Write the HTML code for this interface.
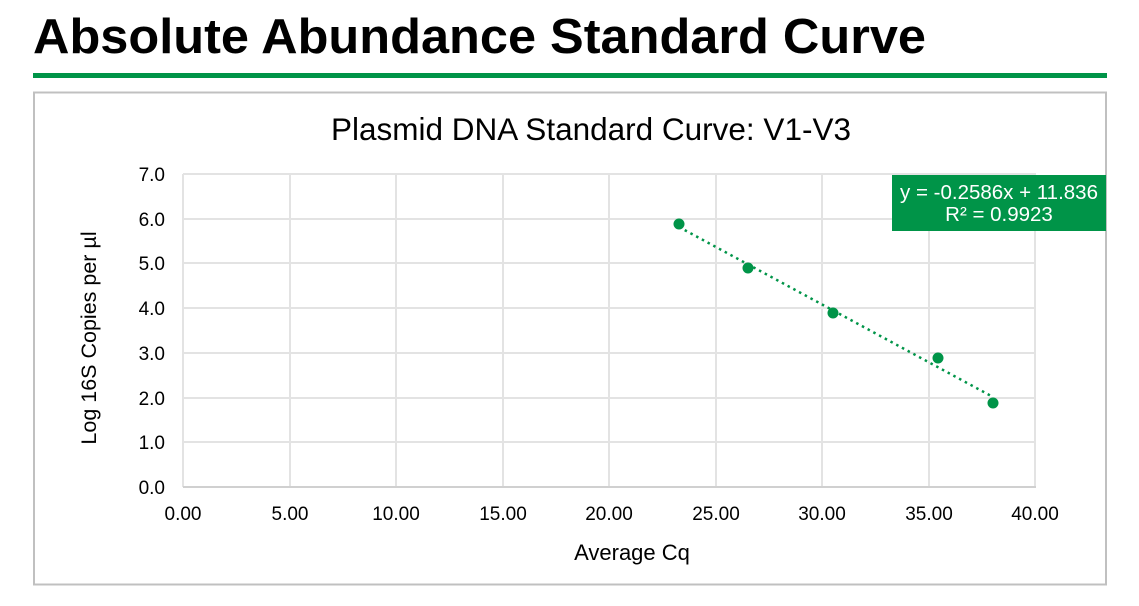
<!DOCTYPE html>
<html><head><style>
html,body{margin:0;padding:0;background:#fff;}
svg{display:block;}
text{font-family:"Liberation Sans",Arial,sans-serif;}
</style></head><body>
<svg width="1139" height="606" viewBox="0 0 1139 606">
<text x="33" y="53" font-size="49" font-weight="bold" fill="#000" textLength="893" lengthAdjust="spacingAndGlyphs">Absolute Abundance Standard Curve</text>
<rect x="33" y="73" width="1074" height="5" fill="#009448"/>
<rect x="34" y="92.5" width="1072" height="492" fill="#fff" stroke="#c0c0c0" stroke-width="2"/>
<text x="591" y="140" font-size="31.5" text-anchor="middle" fill="#000">Plasmid DNA Standard Curve: V1-V3</text>
<g stroke="#e3e3e3" stroke-width="2">
<line x1="183" y1="174" x2="1036" y2="174"/>
<line x1="183" y1="219" x2="1036" y2="219"/>
<line x1="183" y1="263" x2="1036" y2="263"/>
<line x1="183" y1="308" x2="1036" y2="308"/>
<line x1="183" y1="353" x2="1036" y2="353"/>
<line x1="183" y1="398" x2="1036" y2="398"/>
<line x1="183" y1="442" x2="1036" y2="442"/>
<line x1="183" y1="174" x2="183" y2="487"/>
<line x1="290" y1="174" x2="290" y2="487"/>
<line x1="396" y1="174" x2="396" y2="487"/>
<line x1="503" y1="174" x2="503" y2="487"/>
<line x1="609" y1="174" x2="609" y2="487"/>
<line x1="716" y1="174" x2="716" y2="487"/>
<line x1="822" y1="174" x2="822" y2="487"/>
<line x1="929" y1="174" x2="929" y2="487"/>
<line x1="1035" y1="174" x2="1035" y2="487"/>
</g>
<line x1="183" y1="487" x2="1036" y2="487" stroke="#d0d0d0" stroke-width="2"/>
<g font-size="19" fill="#000" text-anchor="end">
<text x="165" y="181">7.0</text><text x="165" y="226">6.0</text><text x="165" y="270">5.0</text>
<text x="165" y="315">4.0</text><text x="165" y="360">3.0</text><text x="165" y="405">2.0</text>
<text x="165" y="449">1.0</text><text x="165" y="494">0.0</text>
</g>
<g font-size="19" fill="#000" text-anchor="middle">
<text x="183" y="520">0.00</text><text x="290" y="520">5.00</text><text x="396" y="520">10.00</text>
<text x="503" y="520">15.00</text><text x="609" y="520">20.00</text><text x="716" y="520">25.00</text>
<text x="822" y="520">30.00</text><text x="929" y="520">35.00</text><text x="1035" y="520">40.00</text>
</g>
<text x="632" y="560" font-size="22" text-anchor="middle">Average Cq</text>
<text transform="translate(96,338) rotate(-90)" font-size="21.5" text-anchor="middle">Log 16S Copies per µl</text>
<line x1="679" y1="227" x2="993" y2="397" stroke="#009448" stroke-width="2.5" stroke-dasharray="2.5 4"/>
<g fill="#009448">
<circle cx="679" cy="224" r="5.5"/><circle cx="748" cy="268" r="5.5"/><circle cx="833" cy="313" r="5.5"/>
<circle cx="938" cy="358" r="5.5"/><circle cx="993" cy="403" r="5.5"/>
</g>
<rect x="892" y="175" width="214" height="56" fill="#009448"/>
<g font-size="20.5" fill="#fff" text-anchor="middle">
<text x="999" y="199">y = -0.2586x + 11.836</text>
<text x="999" y="221">R² = 0.9923</text>
</g>
</svg>
</body></html>
